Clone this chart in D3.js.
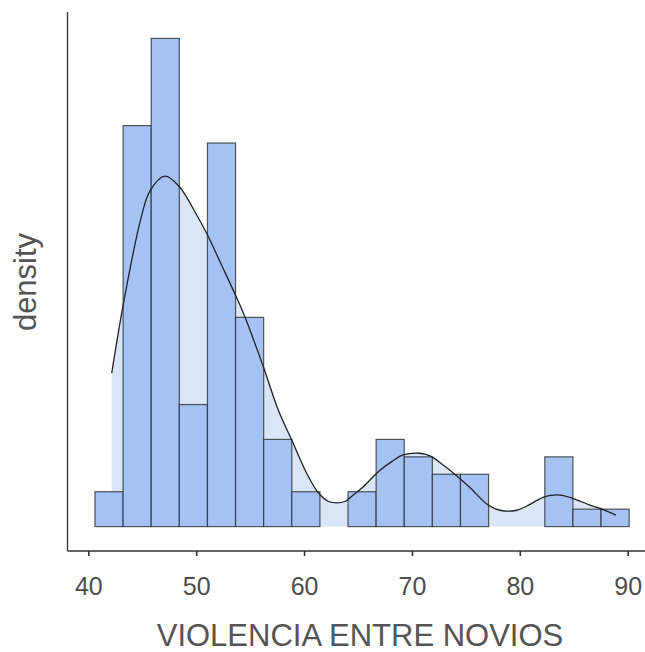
<!DOCTYPE html>
<html>
<head>
<meta charset="utf-8">
<script src="https://cdn.jsdelivr.net/npm/d3@7"></script>
<style>
  html, body { margin: 0; padding: 0; background: #fff; }
  svg { display: block; }
  text { font-family: "Liberation Sans", Arial, sans-serif; }
</style>
</head>
<body>
<svg id="chart" width="645" height="652"></svg>
<script>
// ---- data ----
const binStart = 40.62;          // left edge of first bin
const binWidth = 2.606;          // bin width
const counts = [2, 23, 28, 7, 22, 12, 5, 2, 0, 2, 5, 4, 3, 3, 0, 0, 4, 1, 1];
const xTicks = [40, 50, 60, 70, 80, 90];
const densityX = [42.17, 43.24, 44.79, 45.72, 47.11, 48.41, 50.05, 51.12, 52.21, 53.69,
  54.52, 56.22, 57.61, 58.85, 60.24, 61.32, 62.24, 63.05, 63.79, 64.56,
  65.49, 66.88, 68.12, 69.19, 70.74, 71.67, 72.90, 74.14, 75.37, 77.07,
  78.16, 79.70, 80.94, 82.33, 83.72, 84.95, 86.50, 87.73, 88.91];
const densityY = [0.02725, 0.0394, 0.0540, 0.0596, 0.0622, 0.0604, 0.0553, 0.0515, 0.0470, 0.0409,
  0.0372, 0.0284, 0.0207, 0.0154, 0.00946, 0.0060, 0.00450, 0.00420, 0.00445, 0.0056,
  0.00708, 0.00975, 0.01153, 0.01272, 0.01302, 0.01254, 0.01094, 0.00904, 0.00694, 0.00382,
  0.00290, 0.00290, 0.00395, 0.00534, 0.0056, 0.00498, 0.00382, 0.00302, 0.00205];
const xTitle = "VIOLENCIA ENTRE NOVIOS";
const yTitle = "density";

// ---- derived ----
const N = d3.sum(counts);
const bins = counts.map((c, i) => ({
  x0: binStart + i * binWidth,
  x1: binStart + (i + 1) * binWidth,
  d: c / (N * binWidth)
}));
const dens = densityX.map((x, i) => ({ x, y: densityY[i] }));

// ---- layout ----
const panel = { left: 67.5, top: 14, bottom: 551, right: 645 };
const svg = d3.select("#chart");

const x = d3.scaleLinear().domain([40, 90]).range([88.3, 627.7]);
const maxD = d3.max(bins, b => b.d);
const y = d3.scaleLinear().domain([-0.05 * maxD, 1.05 * maxD]).range([panel.bottom, panel.top]);
const curve = d3.curveCatmullRom.alpha(0.5);

// density fill
svg.append("path")
  .datum(dens)
  .attr("fill", "#dae5f7")
  .attr("d", d3.area().x(d => x(d.x)).y0(y(0)).y1(d => y(d.y)).curve(curve));

// bars
svg.append("g").selectAll("rect").data(bins.filter(b => b.d > 0)).join("rect")
  .attr("x", b => x(b.x0))
  .attr("width", b => x(b.x1) - x(b.x0))
  .attr("y", b => y(b.d))
  .attr("height", b => y(0) - y(b.d))
  .attr("fill", "#a4c2f3")
  .attr("stroke", "#2e2e2e")
  .attr("stroke-opacity", 0.8)
  .attr("stroke-width", 1.2);

// density line
svg.append("path")
  .datum(dens)
  .attr("fill", "none")
  .attr("stroke", "#222")
  .attr("stroke-width", 1.3)
  .attr("d", d3.line().x(d => x(d.x)).y(d => y(d.y)).curve(curve));

// axes
const xAxis = d3.axisBottom(x).tickValues(xTicks).tickSize(5).tickPadding(21).tickFormat(d3.format("d"));
const gx = svg.append("g").attr("transform", `translate(0,${panel.bottom})`).call(xAxis);
gx.select(".domain").remove();
gx.selectAll(".tick line").attr("stroke", "#333").attr("stroke-width", 1.6);
gx.selectAll(".tick text").attr("fill", "#4d4d4d").attr("font-size", 25)
  .attr("font-family", "'Liberation Sans', Arial, sans-serif");

svg.append("line")
  .attr("x1", panel.left).attr("x2", panel.right)
  .attr("y1", panel.bottom).attr("y2", panel.bottom)
  .attr("stroke", "#333").attr("stroke-width", 1.3);
svg.append("line")
  .attr("x1", panel.left).attr("x2", panel.left)
  .attr("y1", 12).attr("y2", panel.bottom)
  .attr("stroke", "#333").attr("stroke-width", 1.3);

// titles
svg.append("text")
  .attr("x", 360).attr("y", 646)
  .attr("text-anchor", "middle")
  .attr("fill", "#555")
  .attr("font-size", 31)
  .text(xTitle);
svg.append("text")
  .attr("transform", "translate(36,282) rotate(-90)")
  .attr("text-anchor", "middle")
  .attr("fill", "#555")
  .attr("font-size", 31)
  .text(yTitle);
</script>
</body>
</html>
